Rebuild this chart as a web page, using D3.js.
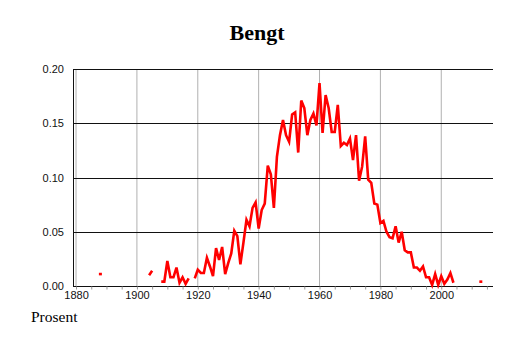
<!DOCTYPE html>
<html>
<head>
<meta charset="utf-8">
<script src="https://cdn.jsdelivr.net/npm/d3@7"></script>
<style>
  body { margin: 0; background: #fff; }
  svg { display: block; }
</style>
</head>
<body>
<svg id="chart" width="514" height="343"></svg>
<script>
var width = 514, height = 343

// share of population named Bengt, by year (null = no data)
var years = d3.range(1888, 2014)
var values = [
  0.011, null, null, null, null, null, null, null, null, null, null, null, null, null, null, null, // 1888-1903
  0.010, 0.014, null, null,                                                  // 1904-1907
  0.004, 0.004, 0.023, 0.008, 0.008, 0.017, 0.003, 0.008, 0.002, 0.007,     // 1908-1917
  null, 0.007,                                                               // 1918-1919
  0.015, 0.012, 0.012, 0.026, 0.018, 0.009, 0.035, 0.024, 0.036, 0.011,     // 1920-1929
  0.021, 0.030, 0.051, 0.046, 0.020, 0.040, 0.061, 0.055, 0.072, 0.077,     // 1930-1939
  0.053, 0.070, 0.076, 0.111, 0.103, 0.072, 0.119, 0.139, 0.153, 0.139,     // 1940-1949
  0.133, 0.158, 0.160, 0.123, 0.171, 0.164, 0.139, 0.153, 0.159, 0.148,     // 1950-1959
  0.187, 0.141, 0.176, 0.164, 0.142, 0.142, 0.167, 0.129, 0.132, 0.130,     // 1960-1969
  0.136, 0.116, 0.139, 0.097, 0.110, 0.138, 0.098, 0.095, 0.076, 0.075,     // 1970-1979
  0.058, 0.060, 0.050, 0.045, 0.044, 0.055, 0.040, 0.050, 0.033, 0.031,     // 1980-1989
  0.031, 0.017, 0.017, 0.014, 0.018, 0.008, 0.008, 0.001, 0.011, 0.001,     // 1990-1999
  0.009, 0.002, 0.006, 0.012, 0.003, null, null, null, null, null,         // 2000-2009
  null, null, null, 0.004                                                    // 2010-2013
]

var yTicks = [0, 0.05, 0.10, 0.15, 0.20]
var xLabels = [1880, 1900, 1920, 1940, 1960, 1980, 2000]
var xMinor = d3.range(1880, 2016, 5)

var data = years.map((yr, i) => ({year: yr, v: values[i]}))

var x = d3.scaleLinear().domain([1879, 2017]).range([73, 493])
var y = d3.scaleLinear().domain([0, 0.2]).range([286, 69])

var svg = d3.select('#chart')

// title
svg.append('text')
  .attr('x', 257).attr('y', 40)
  .attr('text-anchor', 'middle')
  .style('font-family', '"Liberation Serif", "Times New Roman", serif')
  .style('font-weight', 'bold')
  .style('font-size', '22px')
  .text('Bengt')

// vertical gray grid
svg.append('g').selectAll('line')
  .data(xLabels)
  .enter().append('line')
  .attr('x1', d => x(d)).attr('x2', d => x(d))
  .attr('y1', y(0.2)).attr('y2', y(0))
  .attr('stroke', '#b0b0b0').attr('stroke-width', 1)

// horizontal grid
svg.append('g').selectAll('line')
  .data(yTicks)
  .enter().append('line')
  .attr('x1', x.range()[0]).attr('x2', x.range()[1])
  .attr('y1', d => Math.round(y(d)) + 0.5).attr('y2', d => Math.round(y(d)) + 0.5)
  .attr('stroke', '#111').attr('stroke-width', 1)

// left axis line
svg.append('line')
  .attr('x1', 73.5).attr('x2', 73.5)
  .attr('y1', y(0.2)).attr('y2', y(0))
  .attr('stroke', '#111')

// x axis with minor ticks
var xAxis = d3.axisBottom(x).tickValues(xMinor).tickSize(3).tickFormat(d => xLabels.includes(d) ? d : '')
var gx = svg.append('g')
  .attr('transform', 'translate(0,' + (Math.round(y(0)) + 0.5) + ')')
  .call(xAxis)
gx.select('.domain').remove()
gx.selectAll('.tick line').attr('stroke', '#999')
gx.selectAll('.tick text')
  .attr('dy', '0.71em').attr('y', 5)
  .style('font-family', '"Liberation Sans", Arial, sans-serif')
  .style('font-size', '11px')
  .attr('fill', '#111')

// y axis labels
var yAxis = d3.axisLeft(y).tickValues(yTicks).tickSize(0).tickPadding(9).tickFormat(d3.format('.2f'))
var gy = svg.append('g')
  .attr('transform', 'translate(73,0)')
  .call(yAxis)
gy.select('.domain').remove()
gy.selectAll('.tick text')
  .style('font-family', '"Liberation Sans", Arial, sans-serif')
  .style('font-size', '11px')
  .attr('fill', '#111')

// the series
var line = d3.line()
  .defined(d => d.v != null)
  .x(d => x(d.year))
  .y(d => y(d.v))

svg.append('path')
  .datum(data)
  .attr('d', line)
  .attr('fill', 'none')
  .attr('stroke', '#ff0000')
  .attr('stroke-width', 2.6)

// isolated single years
var lonely = data.filter((d, i) => d.v != null &&
  (i == 0 || data[i - 1].v == null) && (i == data.length - 1 || data[i + 1].v == null))
svg.append('g').selectAll('rect')
  .data(lonely)
  .enter().append('rect')
  .attr('x', d => x(d.year) - 1.5)
  .attr('y', d => y(d.v) - 1.3)
  .attr('width', 3).attr('height', 2.6)
  .attr('fill', '#ff0000')

// unit label
svg.append('text')
  .attr('x', 31).attr('y', 322)
  .style('font-family', '"Liberation Serif", "Times New Roman", serif')
  .style('font-size', '15.5px')
  .text('Prosent')
</script>
</body>
</html>
